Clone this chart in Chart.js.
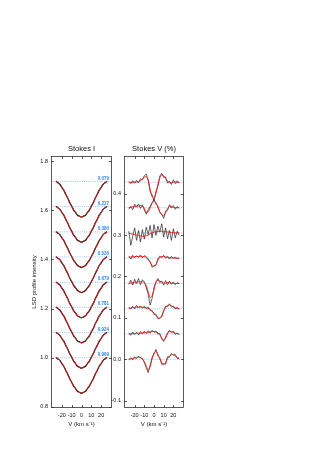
<!DOCTYPE html>
<html><head><meta charset="utf-8">
<script src="https://cdn.jsdelivr.net/npm/chart.js@4"></script>
<style>html,body{margin:0;padding:0;background:#fff;width:327px;height:463px;overflow:hidden}
canvas.c{position:absolute;left:0;top:0}</style></head>
<body>
<canvas id="ci" class="c" width="327" height="463"></canvas>
<canvas id="cv" class="c" width="327" height="463"></canvas>
<script>
// ---------- data ----------
const velocities = [-26,-24,-22,-20,-18,-16,-14,-12,-10,-8,-6,-4,-2,0,2,4,6,8,10,12,14,16,18,20,22,24,26];
const phases = ["0.079","0.227","0.380","0.536","0.679","0.781","0.924","0.969"];
const iOffsets = [0.717,0.615,0.512,0.410,0.307,0.205,0.102,0.000];
const vOffsets = [0.427,0.366,0.305,0.244,0.183,0.122,0.061,0.000];
const stokesIModel = [1.000,0.996,0.988,0.977,0.964,0.949,0.932,0.915,0.899,0.885,0.873,0.864,0.858,0.856,0.858,0.864,0.873,0.885,0.899,0.915,0.932,0.949,0.964,0.977,0.988,0.996,1.000];
const stokesIObs   = [1.001,0.995,0.989,0.976,0.965,0.948,0.933,0.914,0.900,0.884,0.874,0.863,0.859,0.855,0.859,0.863,0.874,0.884,0.900,0.914,0.933,0.948,0.965,0.976,0.989,0.995,1.001];

const vModel1 = [0,0,0,0.001,0.001,0.002,0.004,0.008,0.012,0.014,0.006,-0.018,-0.034,-0.038,-0.026,-0.006,0.011,0.018,0.016,0.009,0.003,-0.001,-0.001,0.001,0.001,0,0];
const vObs1   = [0.002,-0.003,0.004,-0.002,0.005,-0.001,0.009,0.006,0.016,0.020,0.004,-0.022,-0.030,-0.045,-0.022,-0.010,0.015,0.022,0.012,0.013,-0.002,0.003,-0.005,0.006,-0.003,0.004,-0.001];
const vModel2 = [0,0.001,0.002,0.003,0.004,0.004,0.005,0.004,-0.002,-0.011,-0.010,0.000,0.010,0.015,0.012,0.001,-0.010,-0.017,-0.019,-0.012,-0.003,0.003,0.003,0.001,0,0,0];
const vObs2   = [-0.004,0.003,-0.005,0.008,0.001,0.009,-0.002,0.007,-0.006,-0.016,-0.005,0.003,0.012,0.020,0.008,0.004,-0.012,-0.015,-0.026,-0.008,-0.006,0.007,-0.001,0.005,-0.004,0.003,-0.002];
const vModel3 = [-0.001,-0.002,-0.003,-0.004,-0.005,-0.006,-0.007,-0.008,-0.008,-0.007,-0.005,-0.002,0.000,0.002,0.003,0.004,0.004,0.004,0.003,0.003,0.002,0.002,0.001,0.001,0,0,0];
const vObs3   = [0.004,-0.030,-0.008,0.012,-0.018,0.006,-0.022,0.008,-0.015,0.014,-0.004,0.018,-0.012,0.020,-0.006,0.016,0.002,0.022,-0.010,0.012,-0.014,0.006,-0.018,0.010,-0.012,0.004,-0.006];
const vModel4 = [0.002,0.003,0.003,0.004,0.004,0.004,0.004,0.004,0.004,0.002,-0.002,-0.010,-0.017,-0.020,-0.015,-0.005,0.002,0.004,0.004,0.003,0.002,0.001,0.001,0.001,0,0,0];
const vObs4   = [0.005,-0.002,0.007,0.001,0.006,0.002,0.008,0.001,0.006,0.004,-0.004,-0.008,-0.022,-0.018,-0.017,-0.002,0.005,0.001,0.007,0.000,0.005,-0.002,0.004,-0.001,0.003,-0.002,0.001];
const vModel5 = [0,0.001,0.002,0.003,0.003,0.004,0.004,0.004,0.002,-0.006,-0.020,-0.034,-0.030,-0.014,0.002,0.008,0.006,0.003,0.001,0.001,0.002,0.002,0.001,0,0,0,0];
const vObs5   = [-0.002,0.008,-0.004,0.010,0.000,0.012,-0.003,0.009,0.004,-0.010,-0.026,-0.052,-0.036,-0.010,0.004,0.012,0.002,0.006,-0.004,0.007,-0.003,0.006,-0.002,0.004,-0.003,0.002,0.000];
const vModel6 = [0.001,0.002,0.003,0.003,0.004,0.004,0.004,0.004,0.003,0.002,0.001,-0.002,-0.006,-0.011,-0.016,-0.021,-0.023,-0.017,-0.006,0.004,0.008,0.009,0.007,0.004,0.002,0.001,0];
const vObs6   = [0.004,-0.001,0.006,0.000,0.008,0.002,0.007,0.001,0.006,0.000,0.004,-0.004,-0.004,-0.014,-0.013,-0.024,-0.022,-0.020,-0.004,0.006,0.005,0.012,0.004,0.007,-0.001,0.004,-0.002];
const vModel7 = [0,0.001,0.001,0.001,0.002,0.002,0.002,0.003,0.003,0.004,0.004,0.005,0.006,0.006,0.005,0.003,-0.002,-0.009,-0.015,-0.010,0.001,0.006,0.006,0.004,0.002,0.001,0];
const vObs7   = [0.003,-0.003,0.005,-0.001,0.004,-0.002,0.006,0.000,0.007,0.001,0.008,0.002,0.009,0.004,0.007,0.000,0.002,-0.012,-0.018,-0.007,0.003,0.009,0.003,0.007,-0.001,0.003,-0.002];
const vModel8 = [0,0.001,0.002,0.003,0.004,0.005,0.004,0.001,-0.006,-0.017,-0.026,-0.018,0.001,0.015,0.019,0.012,0.001,-0.009,-0.013,-0.008,0.002,0.008,0.011,0.012,0.008,0.004,0.001];
const vObs8   = [-0.002,0.004,-0.001,0.006,0.002,0.008,0.003,0.002,-0.008,-0.020,-0.032,-0.014,0.004,0.012,0.024,0.008,0.004,-0.012,-0.010,-0.012,0.006,0.005,0.014,0.010,0.012,0.002,0.004];
const vModels = [vModel1,vModel2,vModel3,vModel4,vModel5,vModel6,vModel7,vModel8];
const vObs = [vObs1,vObs2,vObs3,vObs4,vObs5,vObs6,vObs7,vObs8];

const xTicks = [-20,-10,0,10,20];
const iTicks = [0.8,1.0,1.2,1.4,1.6,1.8];
const vTicks = [-0.1,0.0,0.1,0.2,0.3,0.4];
const xRange = [-31,31];
const iRange = [0.795,1.821];
const vRange = [-0.1175,0.4906];

// ---------- styling ----------
const FONT = '"Liberation Sans", Arial, sans-serif';
const RED = '#e8231f', BLACK = '#111', BLUE_LINE = '#7db3f5', BLUE_TXT = '#2a86f0';

const pts = (arr, off) => arr.map((v,i)=>({x:velocities[i], y:v+off}));
const baseline = off => xRange.map(x=>({x, y:off}));

const panelPlugin = {
  id:'panel',
  afterDraw(chart, args, opts){
    const {ctx, chartArea:a, scales} = chart;
    ctx.save();
    ctx.strokeStyle='#333'; ctx.lineWidth=0.8;
    ctx.strokeRect(a.left+0.5, a.top+0.5, a.right-a.left-1, a.bottom-a.top-1);
    ctx.beginPath();
    scales.y.ticks.forEach(t=>{const p=Math.round(scales.y.getPixelForValue(t.value))+0.5;
      ctx.moveTo(a.left,p);ctx.lineTo(a.left+3,p);ctx.moveTo(a.right,p);ctx.lineTo(a.right-3,p);});
    scales.x.ticks.forEach(t=>{const p=Math.round(scales.x.getPixelForValue(t.value))+0.5;
      ctx.moveTo(p,a.bottom);ctx.lineTo(p,a.bottom-3);ctx.moveTo(p,a.top);ctx.lineTo(p,a.top+3);});
    ctx.stroke();
    ctx.fillStyle='#111'; ctx.font='7.5px '+FONT; ctx.textAlign='center'; ctx.textBaseline='bottom';
    ctx.fillText(opts.title,(a.left+a.right)/2,a.top-3);
    if (opts.labels){
      ctx.fillStyle=BLUE_TXT; ctx.font='bold 4.5px '+FONT; ctx.textAlign='right'; ctx.textBaseline='bottom';
      opts.labels.forEach((s,i)=>{const p=scales.y.getPixelForValue(opts.offsets[i]+1);
        ctx.fillText(s,a.right-3,p-1);});
    }
    ctx.restore();
  }
};

function makeScales(yRange, yTicks, yTitle, yWidth){
  return {
    x:{type:'linear',min:xRange[0],max:xRange[1],
       afterBuildTicks:s=>{s.ticks=xTicks.map(v=>({value:v}));},
       afterFit:s=>{s.height=24;},
       grid:{display:false,drawTicks:false,tickLength:0},border:{display:false},
       ticks:{font:{size:5.5,family:FONT},color:'#111',padding:4,maxRotation:0,autoSkip:false,callback:v=>String(v)},
       title:{display:true,text:'V (km s\u207B\u00B9)',font:{size:6,family:FONT},color:'#111',padding:{top:1,bottom:4}}},
    y:{type:'linear',min:yRange[0],max:yRange[1],
       afterBuildTicks:s=>{s.ticks=yTicks.map(v=>({value:v}));},
       afterFit:s=>{s.width=yWidth;},
       grid:{display:false,drawTicks:false,tickLength:0},border:{display:false},
       ticks:{font:{size:5.5,family:FONT},color:'#111',padding:3,autoSkip:false,callback:v=>Number(v).toFixed(1)},
       title:{display:!!yTitle,text:yTitle||'',font:{size:6,family:FONT},color:'#111',padding:{top:4,bottom:2}}}
  };
}

// ---------- Stokes I ----------
const iSets = [];
iOffsets.forEach((off)=>{
  iSets.push({data:pts(stokesIModel,off),borderColor:RED,borderWidth:0.9,pointRadius:0,tension:0.3,fill:false});
});
iOffsets.forEach((off)=>{
  iSets.push({data:pts(stokesIObs,off),borderColor:BLACK,borderWidth:1.3,pointRadius:0,tension:0.3,fill:false});
});
iOffsets.forEach((off)=>{
  iSets.push({data:baseline(1+off),borderColor:BLUE_LINE,borderWidth:0.8,borderDash:[1,1.2],pointRadius:0,fill:false});
});

new Chart(document.getElementById('ci'),{
  type:'line',
  data:{datasets:iSets},
  options:{responsive:false,animation:false,devicePixelRatio:1,
    layout:{padding:{left:27,right:215,top:156,bottom:31}},
    plugins:{legend:{display:false},tooltip:{enabled:false},
      panel:{title:'Stokes I',labels:phases,offsets:iOffsets}},
    scales:makeScales(iRange,iTicks,'LSD profile intensity',24)},
  plugins:[panelPlugin]
});

// ---------- Stokes V ----------
const vSets = [];
vOffsets.forEach((off,i)=>{
  vSets.push({data:pts(vModels[i],off),borderColor:RED,borderWidth:1,pointRadius:0,tension:0.35,fill:false});
});
vOffsets.forEach((off,i)=>{
  vSets.push({data:pts(vObs[i],off),borderColor:'#222',borderWidth:0.7,pointRadius:0,tension:0,fill:false});
});
vOffsets.forEach((off)=>{
  vSets.push({data:baseline(off),borderColor:BLUE_LINE,borderWidth:0.8,borderDash:[1,1.2],pointRadius:0,fill:false});
});

new Chart(document.getElementById('cv'),{
  type:'line',
  data:{datasets:vSets},
  options:{responsive:false,animation:false,devicePixelRatio:1,
    layout:{padding:{left:111,right:143,top:156,bottom:31}},
    plugins:{legend:{display:false},tooltip:{enabled:false},
      panel:{title:'Stokes V (%)'}},
    scales:makeScales(vRange,vTicks,null,13)},
  plugins:[panelPlugin]
});
</script>
</body></html>
